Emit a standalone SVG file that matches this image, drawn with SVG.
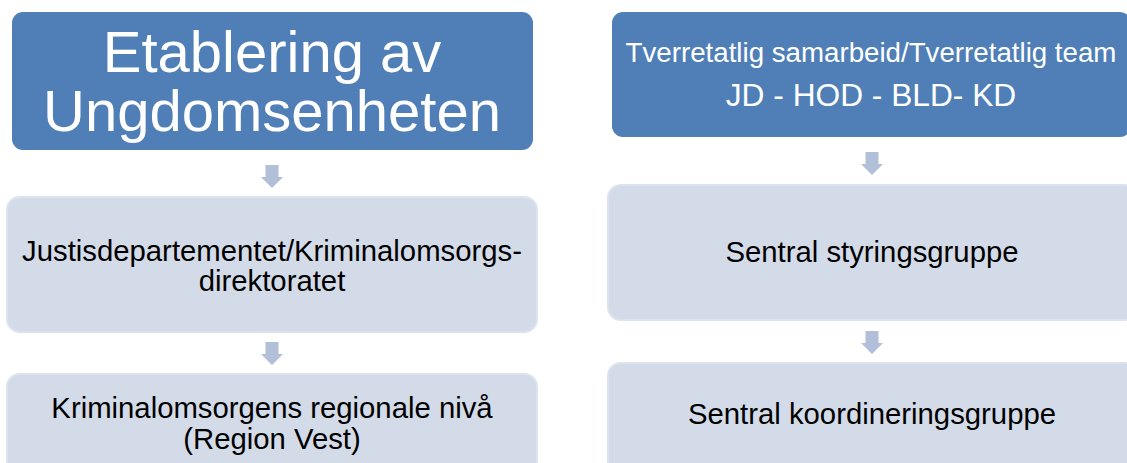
<svg xmlns="http://www.w3.org/2000/svg" width="1127" height="463" viewBox="0 0 1127 463">
  <style>
    .dark { fill: #4f7fb6; }
    .light { fill: #d3dbe8; stroke: #dde3ee; stroke-width: 2; }
    .arrow { fill: #b1bfd9; }
    text { font-family: "Liberation Sans", Arial, sans-serif; text-anchor: middle; }
    .wt { fill: #ffffff; }
    .bt { fill: #000000; font-size: 29.3px; }
  </style>
  <defs>
    <path id="arr" d="M -6.5 0 L 6.5 0 L 6.5 12 L 11 12 L 0 23 L -11 12 L -6.5 12 Z"/>
  </defs>
  <rect width="1127" height="463" fill="#ffffff"/>

  <g id="connectors">
    <use href="#arr" class="arrow" x="272" y="165"/>
    <use href="#arr" class="arrow" x="272" y="342"/>
    <use href="#arr" class="arrow" x="872" y="152"/>
    <use href="#arr" class="arrow" x="872" y="331"/>
  </g>

  <g id="node-etablering">
    <rect class="dark" x="12" y="12" width="521" height="138" rx="11"/>
    <text class="wt" x="272" y="72" font-size="58">Etablering av</text>
    <text class="wt" x="272" y="131" font-size="58">Ungdomsenheten</text>
  </g>

  <g id="node-justis">
    <rect class="light" x="7" y="197" width="530" height="135" rx="13"/>
    <text class="bt" x="272" y="261">Justisdepartementet/Kriminalomsorgs-</text>
    <text class="bt" x="272" y="291">direktoratet</text>
  </g>

  <g id="node-regional">
    <rect class="light" x="7" y="374" width="530" height="135" rx="13"/>
    <text class="bt" x="272" y="418">Kriminalomsorgens regionale nivå</text>
    <text class="bt" x="272" y="449">(Region Vest)</text>
  </g>

  <g id="node-tverretatlig">
    <rect class="dark" x="612" y="12" width="519" height="125" rx="11"/>
    <text class="wt" x="871" y="62" font-size="27.7">Tverretatlig samarbeid/Tverretatlig team</text>
    <text class="wt" x="871" y="106" font-size="31.7">JD - HOD - BLD- KD</text>
  </g>

  <g id="node-styring">
    <rect class="light" x="608" y="185" width="530" height="135" rx="13"/>
    <text class="bt" x="872" y="262">Sentral styringsgruppe</text>
  </g>

  <g id="node-koordinering">
    <rect class="light" x="608" y="363" width="530" height="135" rx="13"/>
    <text class="bt" x="872" y="424">Sentral koordineringsgruppe</text>
  </g>
</svg>
